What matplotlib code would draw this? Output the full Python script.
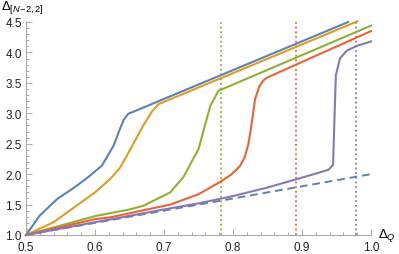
import numpy as np
import matplotlib.pyplot as plt
from matplotlib.ticker import MultipleLocator

plt.rcParams['font.family'] = ['Liberation Sans', 'DejaVu Sans']
plt.rcParams['mathtext.fontset'] = 'custom'
plt.rcParams['mathtext.rm'] = 'Liberation Sans'
plt.rcParams['mathtext.it'] = 'Liberation Sans:italic'

# curves
blue_x = [0.5, 0.52, 0.545, 0.57, 0.59, 0.61, 0.627, 0.636, 0.642, 0.648, 0.967]
blue_y = [1.0, 1.32, 1.59, 1.78, 1.95, 2.14, 2.47, 2.74, 2.90, 2.99, 4.5]

orange_x = [0.5, 0.54, 0.573, 0.6, 0.622, 0.636, 0.646, 0.658, 0.67, 0.682, 0.692, 0.98]
orange_y = [1.0, 1.21, 1.48, 1.70, 1.92, 2.10, 2.30, 2.55, 2.80, 3.02, 3.15, 4.51]

green_x = [0.5, 0.6, 0.65, 0.67, 0.709, 0.728, 0.75, 0.767, 0.779, 1.0]
green_y = [1.0, 1.31, 1.42, 1.48, 1.70, 1.95, 2.41, 3.12, 3.37, 4.44]

red_x = [0.5, 0.6, 0.622, 0.709, 0.75, 0.781, 0.797, 0.81, 0.817, 0.822, 0.826, 0.832, 0.838, 0.844, 0.85, 1.0]
red_y = [1.0, 1.26, 1.29, 1.50, 1.67, 1.87, 1.99, 2.13, 2.28, 2.48, 2.75, 3.23, 3.44, 3.54, 3.59, 4.35]

purple_x = [0.5, 0.6, 0.7, 0.75, 0.8, 0.85, 0.89, 0.92, 0.938, 0.945, 0.949, 0.955, 0.965, 0.98, 1.0]
purple_y = [1.0, 1.21, 1.42, 1.52, 1.64, 1.78, 1.91, 2.01, 2.07, 2.15, 3.62, 3.90, 4.03, 4.11, 4.18]

ref_x = [0.5, 1.0]
ref_y = [1.0, 2.0]

vlines = [0.7826, 0.891, 0.978]

colors = ['#5E81B5', '#E19C24', '#8FB032', '#EB6235', '#8778B3']

fig = plt.figure(figsize=(3.99, 2.55), dpi=100)
ax = fig.add_axes([26 / 399, 19 / 255, 345 / 399, 213 / 255])

for xs, ys, c in zip([blue_x, orange_x, green_x, red_x, purple_x],
                     [blue_y, orange_y, green_y, red_y, purple_y], colors):
    ax.plot(xs, ys, color=c, lw=1.5, clip_on=False, zorder=3)

ax.plot(ref_x, ref_y, color=colors[0], lw=1.4, ls=(0, (4, 2.5)), clip_on=False)

for v, c in zip(vlines, colors[2:]):
    ax.axvline(v, ymin=0, ymax=1, color=c, lw=1.3, ls=(0, (1, 1.6)))

ax.set_xlim(0.5, 1.0)
ax.set_ylim(1.0, 4.5)
ax.xaxis.set_major_locator(MultipleLocator(0.1))
ax.xaxis.set_minor_locator(MultipleLocator(0.02))
ax.yaxis.set_major_locator(MultipleLocator(0.5))
ax.yaxis.set_minor_locator(MultipleLocator(0.1))
ax.xaxis.set_major_formatter(plt.FuncFormatter(lambda v, p: f'{v:.1f}'))
ax.yaxis.set_major_formatter(plt.FuncFormatter(lambda v, p: f'{v:.1f}'))

for s in ['top', 'right']:
    ax.spines[s].set_visible(False)
for s in ['left', 'bottom']:
    ax.spines[s].set_color('#aaaaaa')
    ax.spines[s].set_linewidth(0.8)

ax.tick_params(which='both', direction='in', color='#aaaaaa', width=0.7,
               labelsize=8.5, labelcolor='#222222')
ax.tick_params(which='major', length=4)
ax.tick_params(which='minor', length=2.2)
ax.tick_params(axis='x', pad=4)
ax.tick_params(axis='y', pad=3)

fig.text(1 / 399, 1 - 9.5 / 255, r'$\Delta_{[N\!-\!2,2]}$', fontsize=9.5,
         va='baseline', ha='left')
fig.text(378 / 399, 1 - 238 / 255, r'$\Delta_Q$', fontsize=9.5,
         va='baseline', ha='left')

plt.savefig('out.png', dpi=100)
